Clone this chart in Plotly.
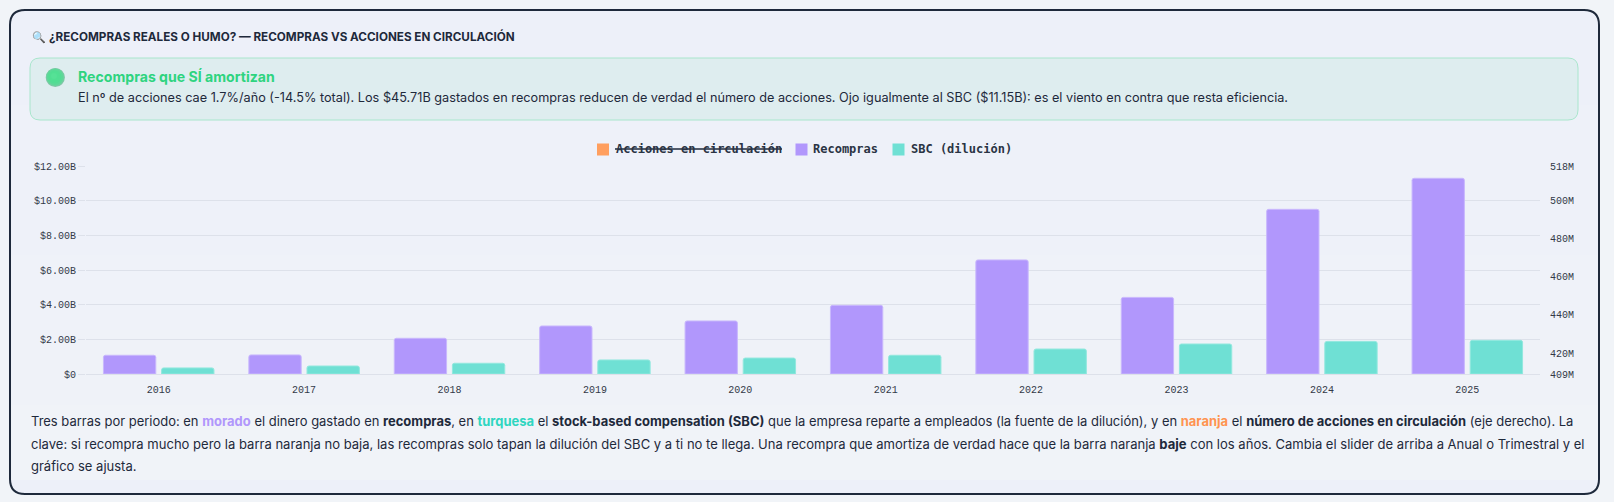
import plotly.graph_objects as go

W, H = 1614, 502
# plot area in page pixels
L, R, T, B = 86, 1540, 166, 374

years = ["2016", "2017", "2018", "2019", "2020", "2021", "2022", "2023", "2024", "2025"]
recompras = [1.08, 1.10, 2.06, 2.77, 3.06, 3.96, 6.58, 4.42, 9.50, 11.29]
sbc = [0.35, 0.46, 0.62, 0.81, 0.92, 1.08, 1.44, 1.73, 1.88, 1.94]

left_ticks = [0, 2, 4, 6, 8, 10, 12]
left_labels = ["$0", "$2.00B", "$4.00B", "$6.00B", "$8.00B", "$10.00B", "$12.00B"]
right_ticks = [409, 420, 440, 460, 480, 500, 518]
right_labels = ["409M", "420M", "440M", "460M", "480M", "500M", "518M"]

PURPLE = "#b197fc"
TEAL = "#6fe0d4"
ORANGE = "#ff9f5f"
INK = "#1e293b"
GRID = "#dde1ea"
BODY = "Inter"
MONO = "Liberation Mono"
LEGEND_FONT = "DejaVu Sans Mono"


def px(x):
    return (x - L) / (R - L)


def py(y):
    return (B - y) / (B - T)


def round_rect(x0, y0, x1, y1, r):
    a, b, c, d = px(x0), px(x1), py(y0), py(y1)
    rx, ry = r / (R - L), r / (B - T)
    return (
        f"M{a + rx},{c} L{b - rx},{c} Q{b},{c} {b},{c - ry} L{b},{d + ry} Q{b},{d} {b - rx},{d} "
        f"L{a + rx},{d} Q{a},{d} {a},{d + ry} L{a},{c - ry} Q{a},{c} {a + rx},{c} Z"
    )


def note(x, y, text, size=13, color=INK, family=BODY, anchor="left"):
    return dict(
        xref="paper", yref="paper", x=px(x), y=py(y), text=text, showarrow=False,
        xanchor=anchor, yanchor="middle", align="left",
        font=dict(family=family, size=size, color=color),
    )


def box(x0, y0, x1, y1, col):
    return dict(type="rect", xref="paper", yref="paper", x0=px(x0), x1=px(x1), y0=py(y1), y1=py(y0),
                fillcolor=col, line=dict(width=0), layer="below")


fig = go.Figure()
fig.add_trace(go.Bar(
    name="Recompras", x=years, y=recompras,
    marker=dict(color=PURPLE, line=dict(color="#c9b8fd", width=1), cornerradius=2),
))
fig.add_trace(go.Bar(
    name="SBC (dilución)", x=years, y=sbc,
    marker=dict(color=TEAL, line=dict(color="#92e8de", width=1), cornerradius=2),
))
# right axis carries the hidden series, only its scale is visible
fig.add_trace(go.Scatter(x=years, y=[None] * len(years), yaxis="y2", showlegend=False))

shapes = [
    dict(type="path", path=round_rect(10, 10, 1599, 494, 15), xref="paper", yref="paper",
         fillcolor="#edf0f9", line=dict(color=INK, width=2), layer="below"),
]
# card background drifts slightly lighter/greyer toward the bottom
for i, col in enumerate(["#edf0f9", "#eef1f9", "#eef1f9", "#eff2f9", "#eff2f8", "#f0f3f8"]):
    shapes.append(box(11, 30 + i * 75, 1598, 105 + i * 75, col))
shapes.append(dict(type="path", path=round_rect(30, 58, 1578, 120, 10), xref="paper", yref="paper",
                   fillcolor="#deedef", line=dict(color="#a8e6cc", width=1), layer="below"))
# green ball
for cx, cy, r, col in [(55.3, 77.5, 9.6, "#86c4aa"), (55.2, 77.2, 9, "#6cd29e"), (55, 77, 8, "#5bd997"),
                       (54.7, 76.8, 6.5, "#52dd93"), (54.4, 76.4, 4.8, "#50df92"), (54, 76, 3, "#56e196")]:
    shapes.append(dict(type="circle", xref="paper", yref="paper", x0=px(cx - r), x1=px(cx + r),
                       y0=py(cy + r), y1=py(cy - r), fillcolor=col, line=dict(width=0), layer="below"))

# chart legend
for x0, col in [(597, ORANGE), (795.5, PURPLE), (892.5, TEAL)]:
    shapes.append(dict(type="rect", xref="paper", yref="paper", x0=px(x0), x1=px(x0 + 12),
                       y0=py(155.5), y1=py(143.5), fillcolor=col, line=dict(width=0)))
shapes.append(dict(type="line", xref="paper", yref="paper", x0=px(615), x1=px(782),
                   y0=py(149), y1=py(149), line=dict(color=INK, width=1.5)))

annotations = [
    note(30, 36.5, "🔍", size=11),
    note(47, 36.5, "<b>¿RECOMPRAS REALES O HUMO? — RECOMPRAS VS ACCIONES EN CIRCULACIÓN</b>", size=11.7),
    note(76, 75.5, "<b>Recompras que SÍ amortizan</b>", size=14.1, color="#2ed47f"),
    note(76, 97, "El nº de acciones cae 1.7%/año (-14.5% total). Los $45.71B gastados en recompras reducen de verdad "
                 "el número de acciones. Ojo igualmente al SBC ($11.15B): es el viento en contra que resta eficiencia.", size=12.7),
    note(614, 149, "<b>Acciones en circulación</b>", size=12, family=LEGEND_FONT, color="#2a3444"),
    note(811, 149, "<b>Recompras</b>", size=12, family=LEGEND_FONT, color="#2a3444"),
    note(908.5, 149, "<b>SBC (dilución)</b>", size=12, family=LEGEND_FONT, color="#2a3444"),
    note(29, 421, f"Tres barras por periodo: en <span style='color:{PURPLE}'><b>morado</b></span> el dinero gastado en "
                  f"<b>recompras</b>, en <span style='color:#2fd6c0'><b>turquesa</b></span> el <b>stock-based compensation (SBC)</b> "
                  f"que la empresa reparte a empleados (la fuente de la dilución), y en <span style='color:#ff9350'><b>naranja</b></span> "
                  f"el <b>número de acciones en circulación</b> (eje derecho). La", size=12.97),
    note(29, 443.5, "clave: si recompra mucho pero la barra naranja no baja, las recompras solo tapan la dilución del SBC y a ti no te llega. "
                    "Una recompra que amortiza de verdad hace que la barra naranja <b>baje</b> con los años. Cambia el slider de arriba a Anual o Trimestral y el", size=13.04),
    note(29, 465.5, "gráfico se ajusta."),
]

fig.update_layout(
    width=W, height=H,
    margin=dict(l=L, r=W - R, t=T, b=H - B, autoexpand=False),
    paper_bgcolor="#f1f4f8", plot_bgcolor="rgba(0,0,0,0)",
    barmode="group", bargap=0.2, bargroupgap=0.1,
    showlegend=False,
    shapes=shapes, annotations=annotations,
    font=dict(family=MONO, size=10, color="#333a48"),
    xaxis=dict(range=[-0.5, 9.5], showgrid=False, ticks="", showline=False, tickfont=dict(family=MONO, size=10), ticklabelstandoff=8),
    yaxis=dict(range=[0, 12], tickvals=left_ticks, ticktext=left_labels, gridcolor=GRID, gridwidth=1,
               zeroline=True, zerolinecolor=GRID, zerolinewidth=1, ticks="outside", ticklen=7, tickcolor=GRID,
               tickfont=dict(family=MONO, size=10)),
    yaxis2=dict(range=[409, 518], overlaying="y", side="right", tickvals=right_ticks, ticktext=right_labels,
                showgrid=False, zeroline=False, ticks="", ticklabelstandoff=9, tickfont=dict(family=MONO, size=10)),
)

fig.write_html("out.html", config=dict(displayModeBar=False),
               post_script="document.body.style.margin='0';document.body.style.overflow='hidden';")
